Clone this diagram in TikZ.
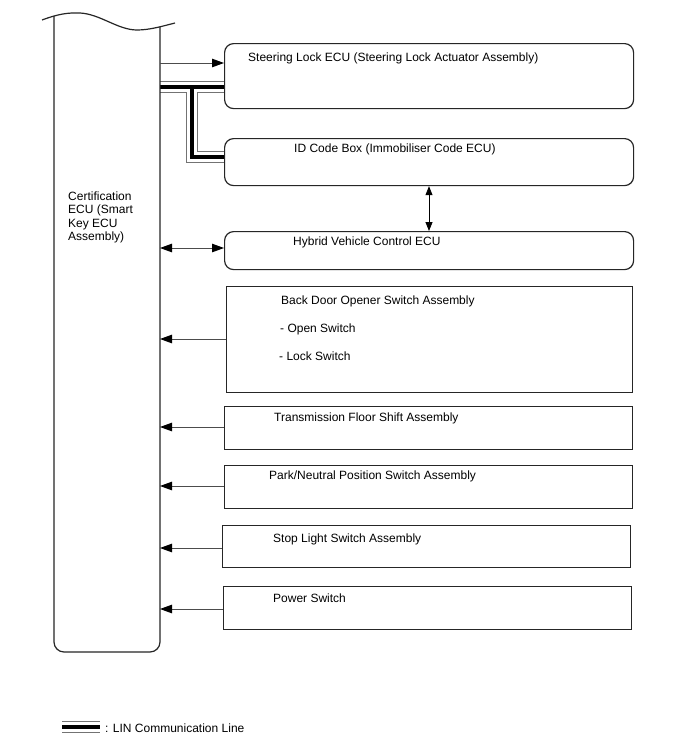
\documentclass[tikz,border=0pt]{standalone}
\usepackage{fontspec}
\setmainfont{Liberation Sans}
\usetikzlibrary{arrows.meta}
\pgfdeclarelayer{back}
\pgfdeclarelayer{lin}
\pgfsetlayers{back,lin,main}
\begin{document}
\begin{tikzpicture}[x=1pt,y=-1pt,
  box/.style={draw=black!85, line width=1.2pt, rectangle, anchor=north west, inner sep=0pt},
  rbox/.style={box, rounded corners=9pt},
  lbl/.style={anchor=base west, inner sep=0pt, font=\fontsize{12}{13.5}\selectfont},
  tipA/.tip={Triangle[length=12pt,width=8.5pt,color=black]},
  tipB/.tip={Triangle[length=9pt,width=7pt,color=black]},
  arr/.style={draw=black!70, line width=0.9pt, -tipA},
  darr/.style={draw=black!70, line width=0.9pt, tipA-tipA},
  varr/.style={draw=black, line width=0.8pt, tipB-tipB},
  linA/.style={draw=black!55, line width=12pt, line join=miter},
  linB/.style={draw=white, line width=10pt, line join=miter},
  linC/.style={draw=black, line width=3.2pt, line join=miter},
  eculine/.style={draw=black!85, line width=1.2pt}]

\begin{pgfonlayer}{back}
\fill[white] (0,0) rectangle (688,755);
\end{pgfonlayer}
\useasboundingbox (0,0) rectangle (688,755);

% Certification ECU outline
\draw[eculine] (42,20) .. controls (58,14) and (68,12.5) .. (80,13) .. controls (100,14) and (118,30) .. (137,30) .. controls (150,30) and (163,26) .. (175,23);
\draw[eculine, rounded corners=10pt] (54,16) -- (54,652) -- (160,652) -- (160,27);
\node[lbl] (ecuT1) at (68,200) {Certification};
\node[lbl] (ecuT2) at (68,213.5) {ECU (Smart};
\node[lbl] (ecuT3) at (68,227) {Key ECU};
\node[lbl] (ecuT4) at (68,240.5) {Assembly)};

% boxes
\node[rbox, minimum width=409pt, minimum height=65pt] (sl) at (224,43) {};
\node[rbox, minimum width=409pt, minimum height=47pt] (id) at (224,138) {};
\node[rbox, minimum width=409pt, minimum height=38pt] (hv) at (224,231) {};
\node[box, minimum width=406pt, minimum height=106pt] (bd) at (226,286) {};
\node[box, minimum width=408pt, minimum height=43pt] (tf) at (224,406) {};
\node[box, minimum width=408pt, minimum height=43pt] (pn) at (224,465) {};
\node[box, minimum width=408pt, minimum height=42pt] (st) at (222,525) {};
\node[box, minimum width=408pt, minimum height=43pt] (pw) at (223,586) {};

% texts
\node[lbl] (tsl) at (248,61) {Steering Lock ECU (Steering Lock Actuator Assembly)};
\node[lbl] (tid) at (294,152) {ID Code Box (Immobiliser Code ECU)};
\node[lbl] (thv) at (293,245) {Hybrid Vehicle Control ECU};
\node[lbl] (tbd1) at (281,304) {Back Door Opener Switch Assembly};
\node[lbl] (tbd2) at (280,332) {- Open Switch};
\node[lbl] (tbd3) at (279,360) {- Lock Switch};
\node[lbl] (ttf) at (274,421) {Transmission Floor Shift Assembly};
\node[lbl] (tpn) at (269,479) {Park/Neutral Position Switch Assembly};
\node[lbl] (tst) at (273,542) {Stop Light Switch Assembly};
\node[lbl] (tpw) at (273,602) {Power Switch};

% ECU side coordinates
\coordinate (e1) at (160,63);
\coordinate (eL) at (160,87);
\coordinate (bj) at (192,87);
\coordinate (bk) at (192,157);
\coordinate (e3) at (160,248);
\coordinate (e4) at (160,339);
\coordinate (e5) at (160,427);
\coordinate (e6) at (160,486);
\coordinate (e7) at (160,548);
\coordinate (e8) at (160,609);
\coordinate (vx) at (429,0);

% LIN bus
\begin{pgfonlayer}{lin}
\foreach \s in {linA,linB,linC}{
  \draw[\s] (eL) -- (sl.west |- eL);
  \draw[\s] (bj) -- (bk) -- (id.west |- bk);
}
\end{pgfonlayer}

% arrows
\draw[arr] (e1) -- (sl.west |- e1);
\draw[darr] (e3) -- (hv.west |- e3);
\draw[arr] (bd.west |- e4) -- (e4);
\draw[arr] (tf.west |- e5) -- (e5);
\draw[arr] (pn.west |- e6) -- (e6);
\draw[arr] (st.west |- e7) -- (e7);
\draw[arr] (pw.west |- e8) -- (e8);
\draw[varr] (id.south -| vx) -- (hv.north -| vx);

% legend
\coordinate (lg1) at (62,727);
\coordinate (lg2) at (100,727);
\foreach \s in {linA,linB,linC}{
  \draw[\s] (lg1) -- (lg2);
}
\node[lbl] (tlg) at (105,732) {: LIN Communication Line};
\end{tikzpicture}
\end{document}
